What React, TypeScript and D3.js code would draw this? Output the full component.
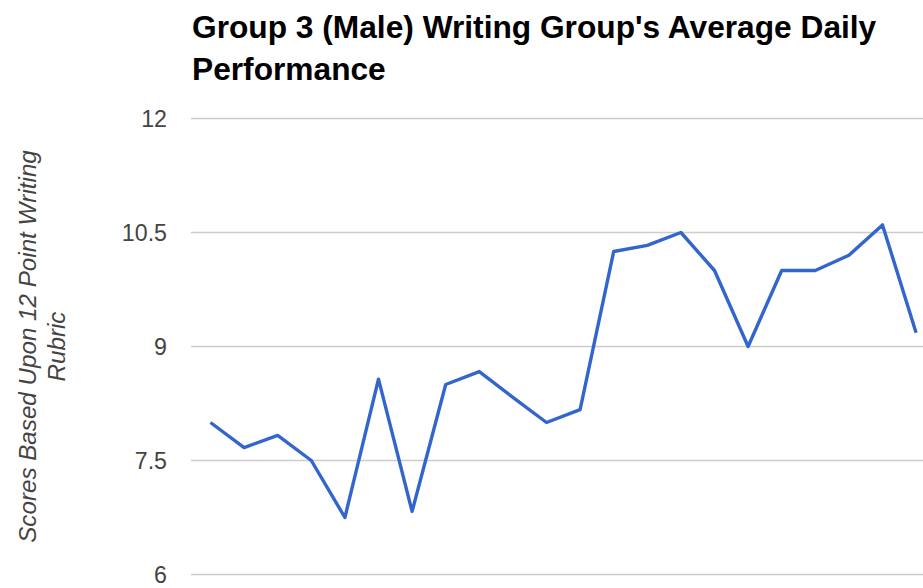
import * as d3 from 'd3'

// daily averages
const days = d3.range(1, 23).map(String)
const scores = [
  8.0, 7.67, 7.83, 7.5, 6.75, 8.57, 6.83, 8.5, 8.67, 8.33, 8.0,
  8.17, 10.25, 10.33, 10.5, 10.0, 9.0, 10.0, 10.0, 10.2, 10.6, 9.18,
]
const yTicks = [6, 7.5, 9, 10.5, 12]
const titleLines = ["Group 3 (Male) Writing Group's Average Daily", 'Performance']
const yTitleLines = ['Scores Based Upon 12 Point Writing', 'Rubric']

const width = 923
const height = 588
const plotLeft = 191
const plotTop = 118.5
const plotBottom = 574.5

export default function App() {
  const x = d3.scalePoint<string>().domain(days).range([193.7, 932.9]).padding(0.5)
  const y = d3.scaleLinear().domain([6, 12]).range([plotBottom, plotTop])

  const line = d3
    .line<number>()
    .x((_, i) => x(days[i]) as number)
    .y((d) => y(d))

  const font = 'Arial, "Liberation Sans", sans-serif'

  return (
    <svg
      width={width}
      height={height}
      style={{ position: 'absolute', left: 0, top: 0, background: '#fff' }}
      fontFamily={font}
    >
      {/* title */}
      {titleLines.map((t, i) => (
        <text key={t} x={192} y={37.5 + i * 42} fontSize={31.7} fontWeight="bold" fill="#000">
          {t}
        </text>
      ))}

      {/* gridlines + tick labels */}
      {yTicks.map((t) => (
        <g key={t}>
          <line x1={plotLeft} x2={width + 20} y1={y(t)} y2={y(t)} stroke="#cccccc" strokeWidth={1.5} />
          <text x={167} y={y(t)} dy="0.36em" textAnchor="end" fontSize={23.2} fill="#444">
            {t}
          </text>
        </g>
      ))}

      {/* y axis title */}
      <g transform={`translate(0,${(plotTop + plotBottom) / 2}) rotate(-90)`}>
        {yTitleLines.map((t, i) => (
          <text key={t} x={0} y={36 + i * 29} textAnchor="middle" fontSize={24.2} fontStyle="italic" fill="#444">
            {t}
          </text>
        ))}
      </g>

      {/* series */}
      <path d={line(scores) ?? ''} fill="none" stroke="#3366cc" strokeWidth={3.4} strokeLinejoin="round" />
    </svg>
  )
}
